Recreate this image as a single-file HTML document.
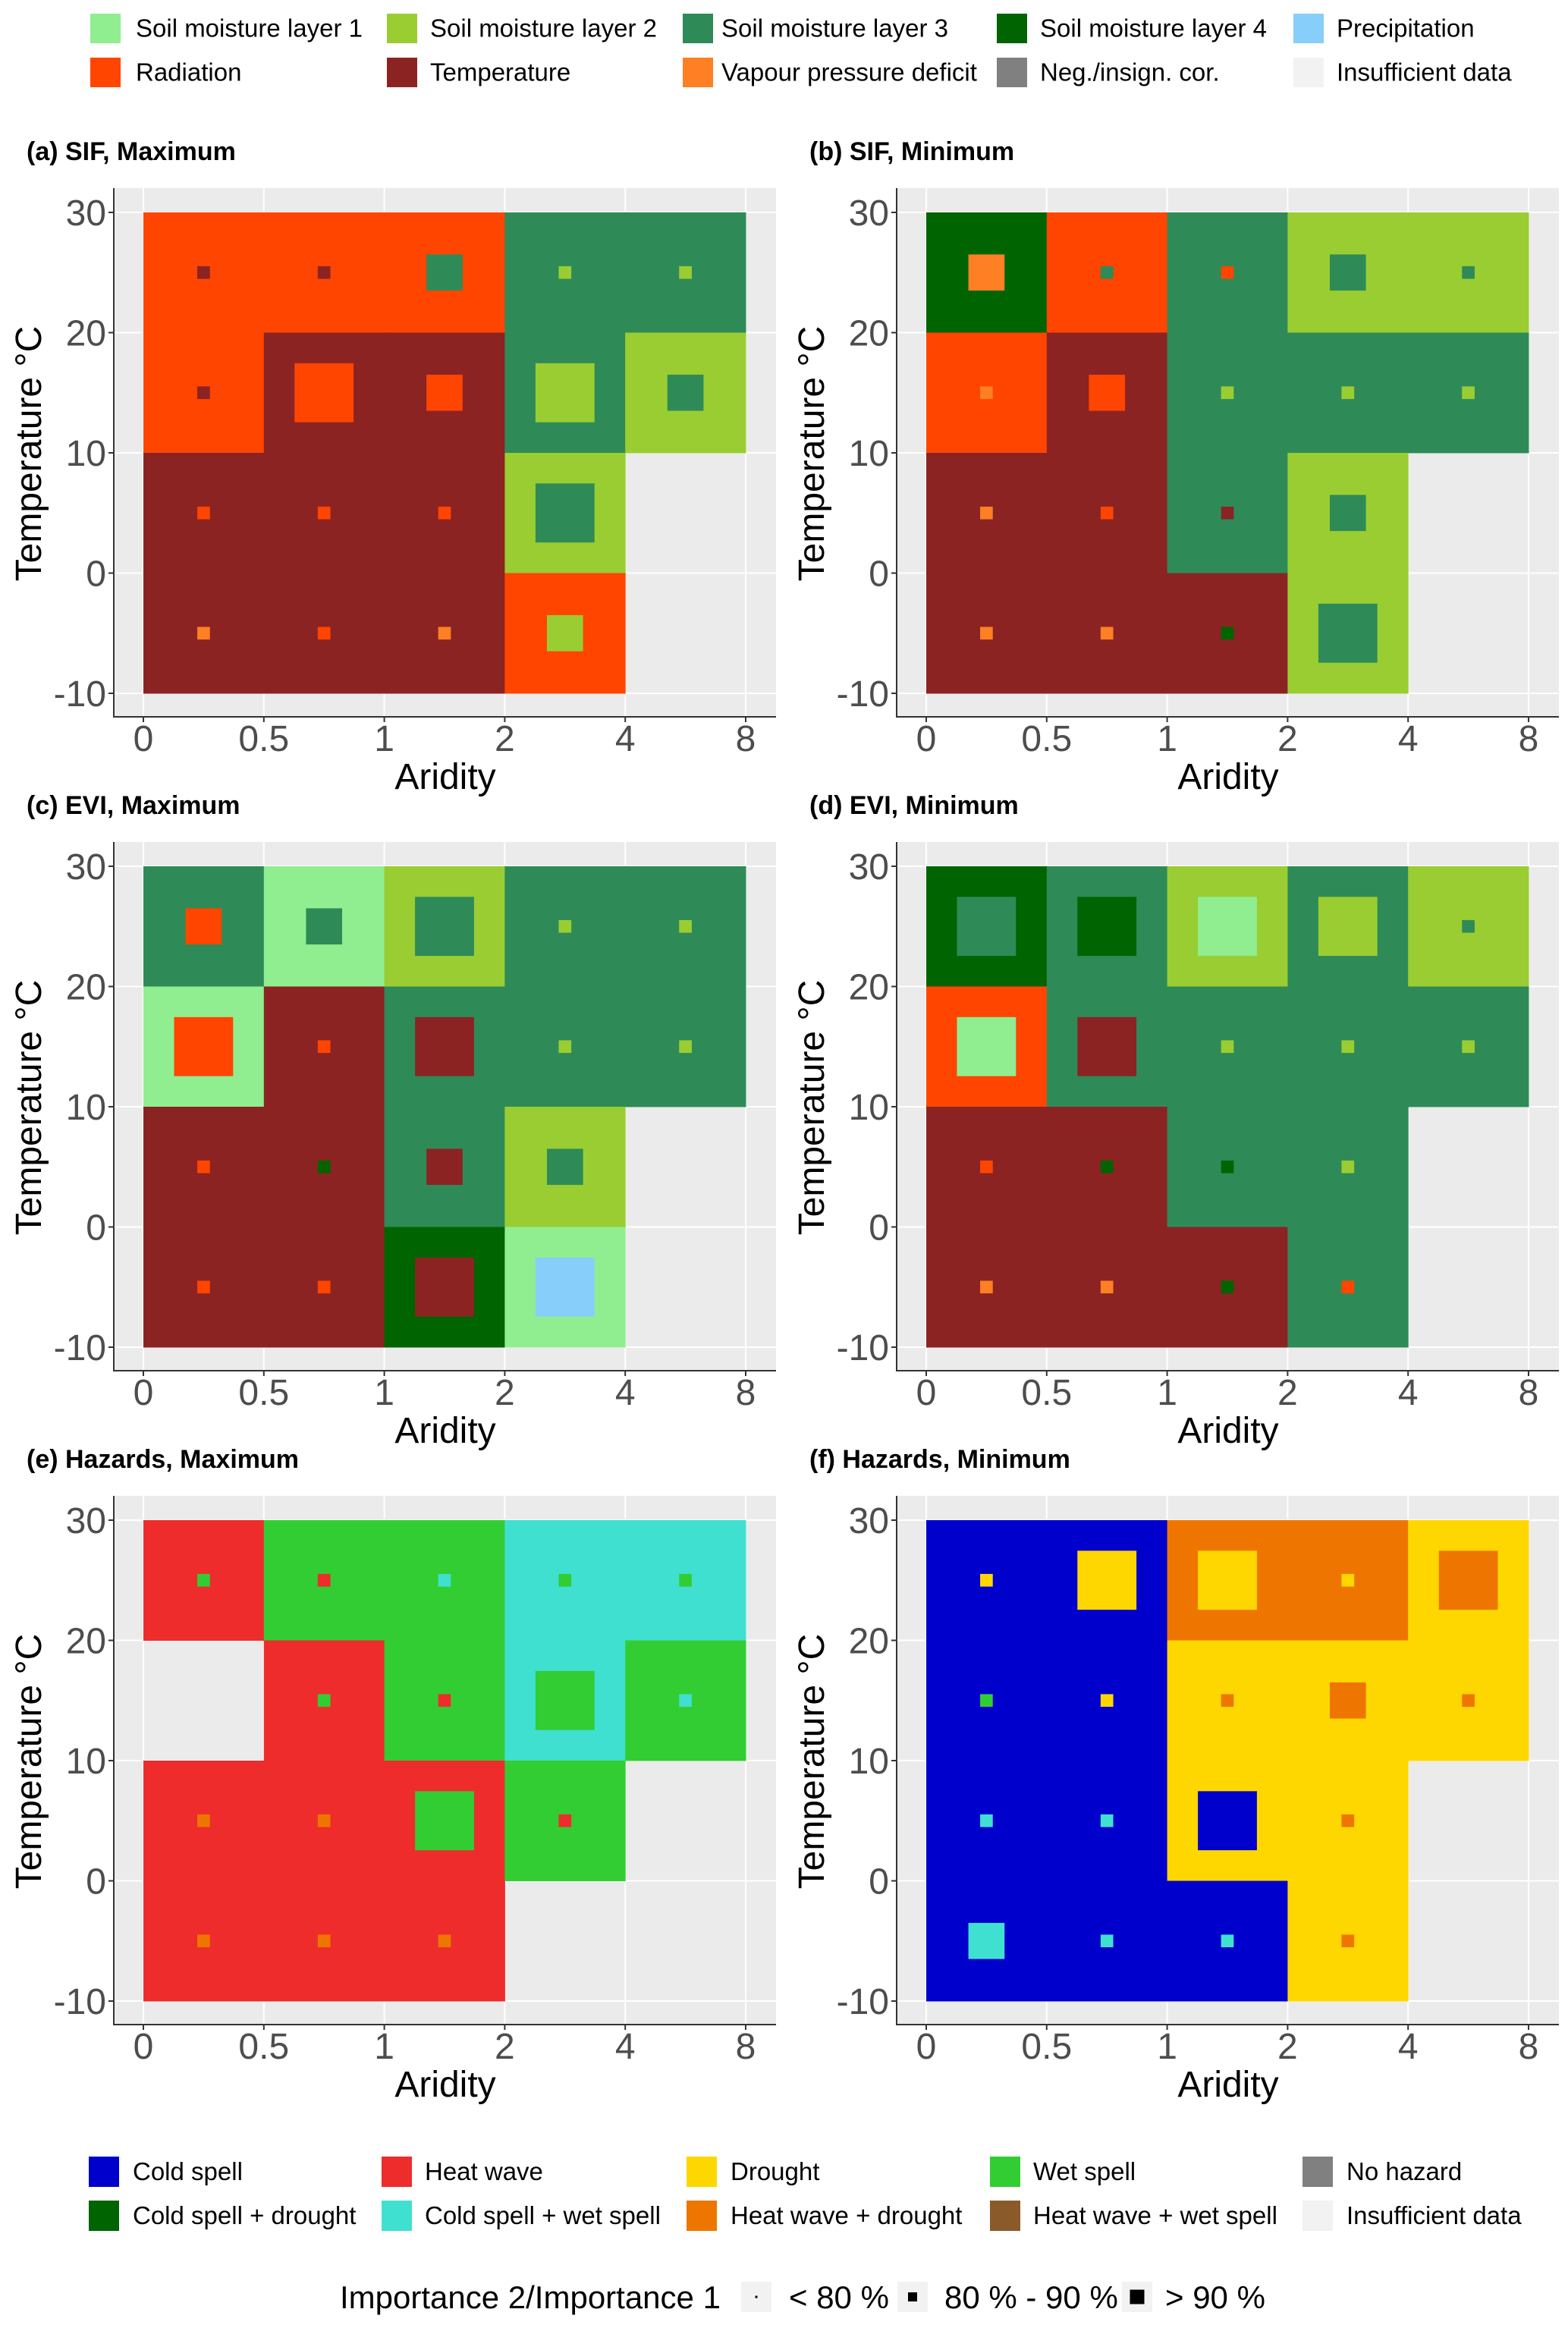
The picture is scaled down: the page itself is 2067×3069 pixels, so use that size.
<!DOCTYPE html>
<html><head><meta charset="utf-8">
<style>
html,body{margin:0;padding:0;background:#fff;}
svg{display:block;font-family:"Liberation Sans",sans-serif;}
</style></head>
<body>
<svg id="fig" width="2067" height="3069" viewBox="0 0 2067 3069" xmlns="http://www.w3.org/2000/svg">
  <g id="top-legend"></g>
  <g id="panels"></g>
  <g id="bottom-legend"></g>
  <g id="imp-legend"></g>
</svg>
<script>
// ---- data ----
const xTickLabels = ["0","0.5","1","2","4","8"];
const yTickValues = [30,20,10,0,-10];
const rowBottoms = [20,10,0,-10]; // temperature bin lower bounds (top row first)
const rowTops = [30,20,10,0];
const panelTitles = ["(a) SIF, Maximum","(b) SIF, Minimum","(c) EVI, Maximum","(d) EVI, Minimum","(e) Hazards, Maximum","(f) Hazards, Minimum"];

const colorMap = {
  S1:"#90EE90", S2:"#9ACD32", S3:"#2E8B57", S4:"#006400", P:"#87CEFA",
  R:"#FF4500", T:"#8B2323", V:"#FF7F24", N:"#808080", I:"#F2F2F2",
  C:"#0000CD", H:"#EE2C2C", D:"#FFD700", W:"#32CD32", NH:"#808080",
  CD:"#006400", CW:"#40E0D0", HD:"#EE7600", HW:"#8B5A2B"
};
// fill, inner, size (1 small <80%, 2 medium 80-90%, 3 big >90%); "" = no data
const aFill  = ["R","R","R","S3","S3",  "R","T","T","S3","S2",  "T","T","T","S2","",  "T","T","T","R",""];
const aInner = ["T","T","S3","S2","S2", "T","R","R","S2","S3",  "R","R","R","S3","",  "V","R","V","S2",""];
const aSize  = [1,1,2,1,1, 1,3,2,3,2, 1,1,1,3,0, 1,1,1,2,0];

const bFill  = ["S4","R","S3","S2","S2", "R","T","S3","S3","S3", "T","T","S3","S2","", "T","T","T","S2",""];
const bInner = ["V","S3","R","S3","S3",  "V","R","S2","S2","S2", "V","R","T","S3","", "V","V","S4","S3",""];
const bSize  = [2,1,1,2,1, 1,2,1,1,1, 1,1,1,2,0, 1,1,1,3,0];

const cFill  = ["S3","S1","S2","S3","S3", "S1","T","S3","S3","S3", "T","T","S3","S2","", "T","T","S4","S1",""];
const cInner = ["R","S3","S3","S2","S2",  "R","R","T","S2","S2",   "R","S4","T","S3","", "R","R","T","P",""];
const cSize  = [2,2,3,1,1, 3,1,3,1,1, 1,1,2,2,0, 1,1,3,3,0];

const dFill  = ["S4","S3","S2","S3","S2", "R","S3","S3","S3","S3", "T","T","S3","S3","", "T","T","T","S3",""];
const dInner = ["S3","S4","S1","S2","S3", "S1","T","S2","S2","S2", "R","S4","S4","S2","", "V","V","S4","R",""];
const dSize  = [3,3,3,3,1, 3,3,1,1,1, 1,1,1,1,0, 1,1,1,1,0];

const eFill  = ["H","W","W","CW","CW", "","H","W","CW","W", "H","H","H","W","", "H","H","H","",""];
const eInner = ["W","H","CW","W","W",  "","W","H","W","CW", "HD","HD","W","H","", "HD","HD","HD","",""];
const eSize  = [1,1,1,1,1, 0,1,1,3,1, 1,1,3,1,0, 1,1,1,0,0];

const fFill  = ["C","C","HD","HD","D", "C","C","D","D","D", "C","C","D","D","", "C","C","C","D",""];
const fInner = ["D","D","D","D","HD",  "W","D","HD","HD","HD", "CW","CW","C","HD","", "CW","CW","CW","HD",""];
const fSize  = [1,3,3,1,3, 1,1,1,2,1, 1,1,3,1,0, 2,1,1,1,0];

const panelFills = [aFill,bFill,cFill,dFill,eFill,fFill];
const panelInners = [aInner,bInner,cInner,dInner,eInner,fInner];
const panelSizes = [aSize,bSize,cSize,dSize,eSize,fSize];

const topLegendLabels = ["Soil moisture layer 1","Soil moisture layer 2","Soil moisture layer 3","Soil moisture layer 4","Precipitation","Radiation","Temperature","Vapour pressure deficit","Neg./insign. cor.","Insufficient data"];
const topLegendKeys = ["S1","S2","S3","S4","P","R","T","V","N","I"];
const botLegendLabels = ["Cold spell","Heat wave","Drought","Wet spell","No hazard","Cold spell + drought","Cold spell + wet spell","Heat wave + drought","Heat wave + wet spell","Insufficient data"];
const botLegendKeys = ["C","H","D","W","NH","CD","CW","HD","HW","I"];

// ---- layout ----
const NS = "http://www.w3.org/2000/svg";
function mk(tag, attrs, parent){
  const e = document.createElementNS(NS, tag);
  for (const k in attrs) e.setAttribute(k, attrs[k]);
  parent.appendChild(e); return e;
}
const X0 = 189, BIN = 158.8, Y30 = 280, PX_PER_DEG = 15.85;
const COL_OFF = 1032, ROW_OFF = 862;
const sizeFrac = [0, 0.105, 0.30, 0.49];

const panelsG = document.getElementById('panels');
panelTitles.forEach((title, p) => {
  const ox = (p % 2) * COL_OFF, oy = Math.floor(p / 2) * ROW_OFF;
  const xs = b => ox + X0 + b * BIN;
  const ys = t => oy + Y30 + (30 - t) * PX_PER_DEG;
  const g = mk('g', {}, panelsG);
  
  

  const t = mk('text', {x: ox + 35, y: oy + 211, 'font-size': 34, 'font-weight': 'bold', fill: '#000'}, g);
  t.textContent = title;
  
  

  const L = ox + 150, R = ox + 1023, T = oy + 248, B = oy + 945;
  const bg = mk('rect', {x: L, y: T, width: R - L, height: B - T, fill: '#EBEBEB'}, g);
  
  
  xTickLabels.forEach((lab, i) => {
    const gl = mk('line', {x1: xs(i), x2: xs(i), y1: T, y2: B, stroke: '#fff', 'stroke-width': 2}, g);
    
    
  });
  yTickValues.forEach(v => {
    const gl = mk('line', {x1: L, x2: R, y1: ys(v), y2: ys(v), stroke: '#fff', 'stroke-width': 2}, g);
    
    
  });

  const fills = panelFills[p], inners = panelInners[p], sizes = panelSizes[p];
  for (let r = 0; r < 4; r++) for (let c = 0; c < 5; c++) {
    const k = r * 5 + c;
    if (!fills[k]) continue;
    const x1 = xs(c), x2 = xs(c + 1), y1 = ys(rowTops[r]), y2 = ys(rowBottoms[r]);
    const cell = mk('rect', {x: x1, y: y1, width: x2 - x1 + 0.5, height: y2 - y1 + 0.5, fill: colorMap[fills[k]]}, g);
    
    
    if (sizes[k] > 0 && inners[k]) {
      const s = (x2 - x1) * sizeFrac[sizes[k]];
      const cx = (x1 + x2) / 2, cy = (y1 + y2) / 2;
      const sq = mk('rect', {x: cx - s / 2, y: cy - s / 2, width: s, height: s, fill: colorMap[inners[k]]}, g);
      
      
    }
  }

  mk('line', {x1: L, x2: L, y1: T, y2: B + 1, stroke: '#333', 'stroke-width': 2}, g);
  mk('line', {x1: L - 1, x2: R, y1: B, y2: B, stroke: '#333', 'stroke-width': 2}, g);
  yTickValues.forEach(v => {
    mk('line', {x1: L - 7, x2: L, y1: ys(v), y2: ys(v), stroke: '#333', 'stroke-width': 2}, g);
    const tl = mk('text', {x: L - 10, y: ys(v) + 17, 'font-size': 48, 'text-anchor': 'end', fill: '#4D4D4D'}, g);
    tl.textContent = String(v);
    
    
  });
  xTickLabels.forEach((lab, i) => {
    mk('line', {x1: xs(i), x2: xs(i), y1: B, y2: B + 7, stroke: '#333', 'stroke-width': 2}, g);
    const tl = mk('text', {x: xs(i), y: oy + 990, 'font-size': 48, 'text-anchor': 'middle', fill: '#4D4D4D'}, g);
    tl.textContent = lab;
    
    
  });
  const xt = mk('text', {x: ox + 587, y: oy + 1040, 'font-size': 48, 'text-anchor': 'middle', fill: '#000'}, g);
  xt.textContent = 'Aridity';
  
  
  const yt = mk('text', {x: 0, y: 0, 'font-size': 48, 'text-anchor': 'middle', fill: '#000', transform: `translate(${ox + 54},${oy + 598}) rotate(-90)`}, g);
  yt.textContent = 'Temperature °C';
  
  
});

function legend(gid, labels, keys, swX, txX, rowY, h){
  const G = document.getElementById(gid);
  labels.forEach((lab, i) => {
    const col = i % 5, row = Math.floor(i / 5);
    const e = mk('g', {}, G);
    
    
    mk('rect', {x: swX[col], y: rowY[row], width: 40, height: h, fill: colorMap[keys[i]]}, e);
    const t = mk('text', {x: txX[col], y: rowY[row] + h / 2 + 11, 'font-size': 33, fill: '#000'}, e);
    t.textContent = lab;
  });
}
legend('top-legend', topLegendLabels, topLegendKeys, [119,510,900,1314,1705], [179,567,951,1371,1762], [18,76], 39);
legend('bottom-legend', botLegendLabels, botLegendKeys, [117,503,905,1305,1717], [175,560,963,1362,1775], [2843,2901], 40);

// importance legend
const IG = document.getElementById('imp-legend');
const it = mk('text', {x: 448, y: 3043, 'font-size': 42, fill: '#000'}, IG);
it.textContent = 'Importance 2/Importance 1';
const impBoxX = [977,1183,1479], impSq = [3,12,19], impLab = ['< 80 %','80 % - 90 %','> 90 %'], impTx = [1040,1245,1536];
impBoxX.forEach((bx, i) => {
  const e = mk('g', {}, IG);
  
  
  mk('rect', {x: bx, y: 3008, width: 40, height: 40, fill: '#F2F2F2'}, e);
  mk('rect', {x: bx + 20 - impSq[i] / 2, y: 3028 - impSq[i] / 2, width: impSq[i], height: impSq[i], fill: '#000'}, e);
  const t = mk('text', {x: impTx[i], y: 3043, 'font-size': 42, fill: '#000'}, e);
  t.textContent = impLab[i];
});
</script>
</body></html>
